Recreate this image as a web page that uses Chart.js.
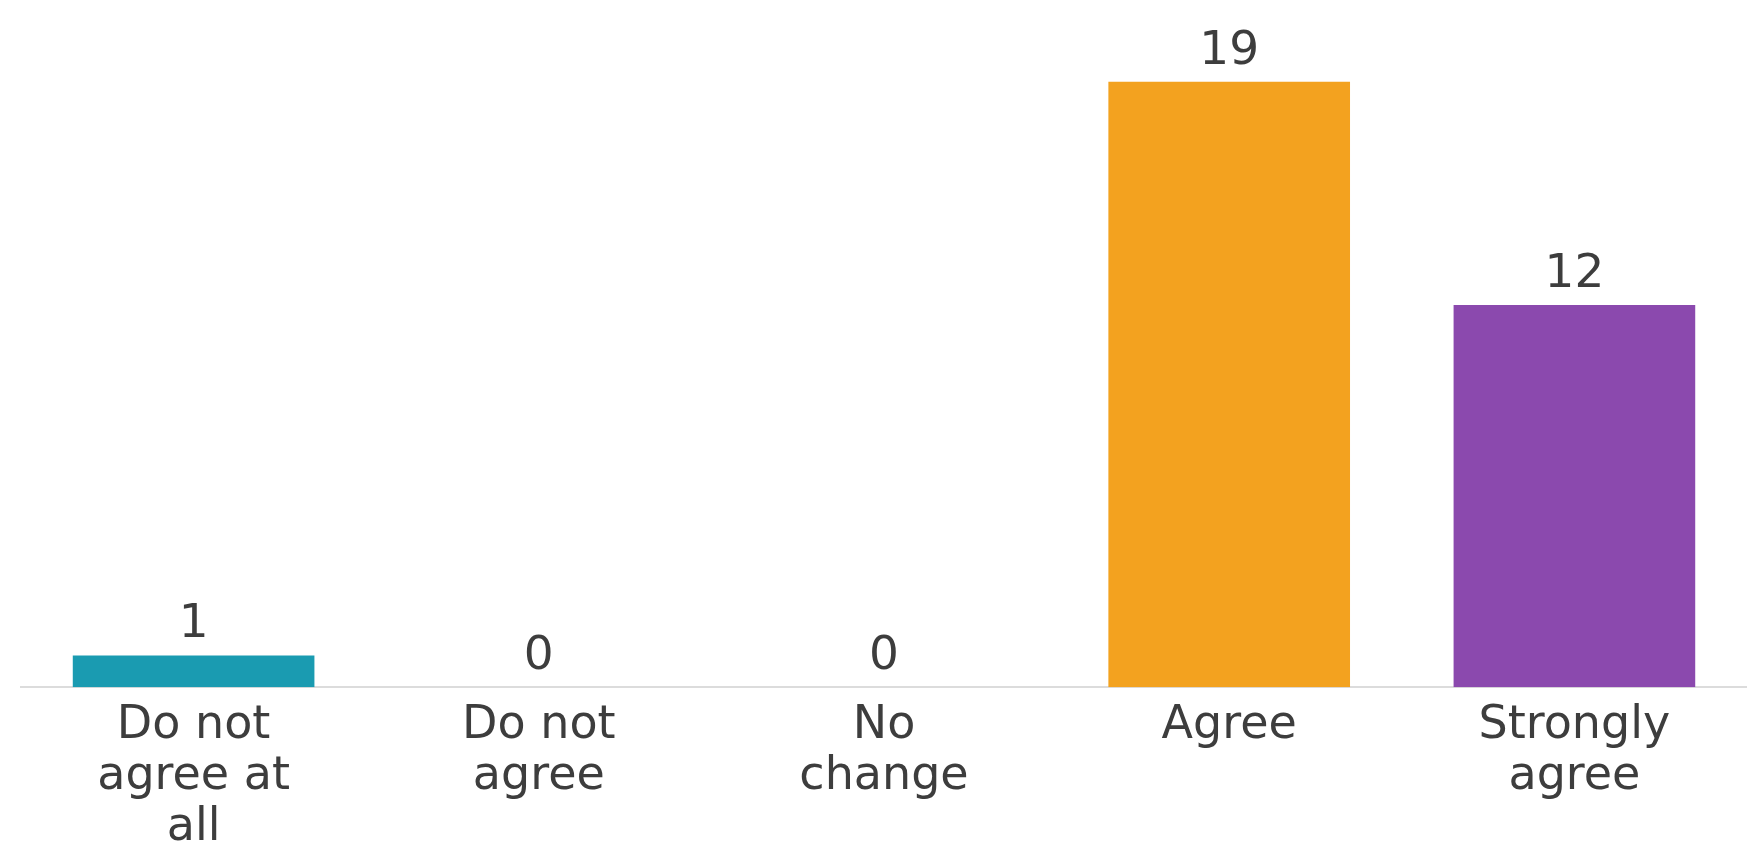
<!DOCTYPE html>
<html>
<head>
<meta charset="utf-8">
<script src="https://cdn.jsdelivr.net/npm/chart.js@4/dist/chart.umd.min.js"></script>
<style>
  html, body { margin: 0; padding: 0; background: #fff; }
  #wrap { width: 1747px; height: 852px; position: relative; }
</style>
</head>
<body>
<div id="wrap"><canvas id="surveyChart"></canvas></div>
<script>
  // ==================== Data ====================
  const categories = [
    ['Do not', 'agree at', 'all'],
    ['Do not', 'agree'],
    ['No', 'change'],
    ['Agree'],
    ['Strongly', 'agree']
  ];
  const responses = [1, 0, 0, 19, 12];
  const barColors = ['#1a9bb1', '#1a9bb1', '#1a9bb1', '#f3a21f', '#8b49ae'];

  const FONT = "'DejaVu Sans', 'Noto Sans', sans-serif";
  const TEXT_COLOR = '#3d3d3d';

  // draws the count above every bar (zero bars too)
  const valueLabels = {
    id: 'valueLabels',
    afterDatasetsDraw(chart) {
      const ctx = chart.ctx;
      const meta = chart.getDatasetMeta(0);
      ctx.save();
      ctx.font = '400 47px ' + FONT;
      ctx.fillStyle = TEXT_COLOR;
      ctx.textAlign = 'center';
      ctx.textBaseline = 'alphabetic';
      meta.data.forEach((bar, i) => {
        ctx.fillText(String(responses[i]), bar.x, bar.y - 18);
      });
      ctx.restore();
    }
  };

  new Chart(document.getElementById('surveyChart'), {
    type: 'bar',
    data: {
      labels: categories,
      datasets: [{
        data: responses,
        backgroundColor: barColors,
        borderWidth: 0,
        barPercentage: 0.7,
        categoryPercentage: 1
      }]
    },
    plugins: [valueLabels],
    options: {
      responsive: true,
      maintainAspectRatio: false,
      animation: false,
      layout: {
        padding: { top: 50, left: 21, right: 0, bottom: -14.5 }
      },
      plugins: {
        legend: { display: false },
        tooltip: { enabled: false }
      },
      scales: {
        x: {
          grid: { display: false, drawTicks: false },
          border: { display: true, color: '#dcdcdc', width: 2 },
          ticks: {
            color: TEXT_COLOR,
            font: { family: FONT, size: 46, lineHeight: 1.11 },
            padding: 13,
            maxRotation: 0,
            autoSkip: false
          }
        },
        y: {
          display: false,
          min: 0,
          max: 20
        }
      }
    }
  });
</script>
</body>
</html>
